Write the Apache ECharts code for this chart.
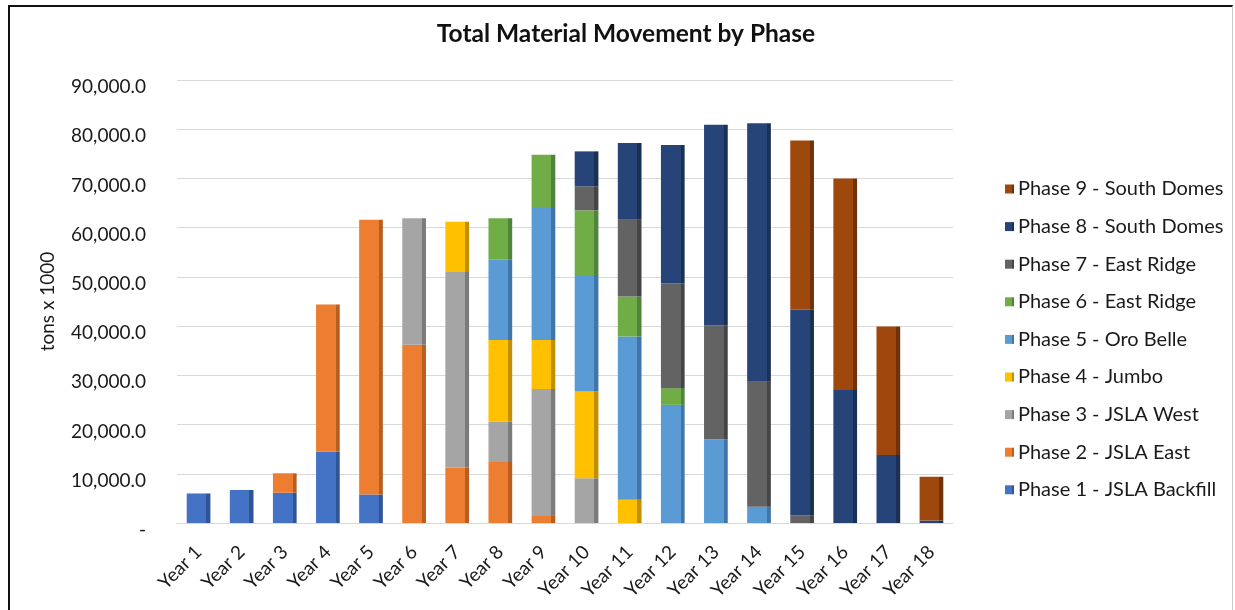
<!DOCTYPE html>
<html>
<head>
<meta charset="utf-8">
<script src="https://cdn.jsdelivr.net/npm/echarts@6/dist/echarts.min.js"></script>
<style>
html,body{margin:0;padding:0;background:#fff;}
#frame{position:absolute;left:8px;top:5px;width:1225px;height:620px;border-top:2px solid #111;border-left:2px solid #111;border-right:1px solid #ccc;box-sizing:border-box;}
#chart{position:absolute;left:0;top:0;width:1235px;height:610px;}
</style>
</head>
<body>
<div id="frame"></div>
<div id="chart"></div>
<script>
const categories = ['Year 1','Year 2','Year 3','Year 4','Year 5','Year 6','Year 7','Year 8','Year 9','Year 10','Year 11','Year 12','Year 13','Year 14','Year 15','Year 16','Year 17','Year 18'];
const phaseNames = ['Phase 1 - JSLA Backfill','Phase 2 - JSLA East','Phase 3 - JSLA West','Phase 4 - Jumbo','Phase 5 - Oro Belle','Phase 6 - East Ridge','Phase 7 - East Ridge','Phase 8 - South Domes','Phase 9 - South Domes'];
const phase1 = [6000, 6700, 6150, 14500, 5800, 0, 0, 0, 0, 0, 0, 0, 0, 0, 0, 0, 0, 0];
const phase2 = [0, 0, 3950, 29900, 55800, 36200, 11300, 12400, 1600, 0, 0, 0, 0, 0, 0, 0, 0, 0];
const phase3 = [0, 0, 0, 0, 0, 25700, 39700, 8200, 25600, 9100, 0, 0, 0, 0, 0, 0, 0, 0];
const phase4 = [0, 0, 0, 0, 0, 0, 10200, 16600, 10000, 17600, 4700, 0, 0, 0, 0, 0, 0, 0];
const phase5 = [0, 0, 0, 0, 0, 0, 0, 16300, 26800, 23700, 33200, 24000, 17000, 3300, 0, 0, 0, 0];
const phase6 = [0, 0, 0, 0, 0, 0, 0, 8400, 10800, 13100, 8100, 3400, 0, 0, 0, 0, 0, 0];
const phase7 = [0, 0, 0, 0, 0, 0, 0, 0, 0, 4900, 15600, 21300, 23200, 25400, 1600, 0, 0, 0];
const phase8 = [0, 0, 0, 0, 0, 0, 0, 0, 0, 7100, 15600, 28100, 40700, 52500, 41700, 27000, 13800, 500];
const phase9 = [0, 0, 0, 0, 0, 0, 0, 0, 0, 0, 0, 0, 0, 0, 34400, 43000, 26100, 8900];
const yTicks = [0, 10000, 20000, 30000, 40000, 50000, 60000, 70000, 80000, 90000];

const phaseData = [phase1, phase2, phase3, phase4, phase5, phase6, phase7, phase8, phase9];
const colors = ['#4472C4','#ED7D31','#A5A5A5','#FFC000','#5B9BD5','#70AD47','#636363','#264478','#9E480E'];
const sides  = ['#2F5597','#B85E1F','#7B7B7B','#C09000','#3F75A8','#50843A','#454545','#1A3054','#703208'];

function fmt(v){
  if (v === 0) return '-';
  return v.toLocaleString('en-US',{minimumFractionDigits:1,maximumFractionDigits:1});
}

const FONT = 'Lato';
const series = phaseData.map((d,i)=>({
  name: phaseNames[i],
  type: 'bar',
  stack: 'total',
  barWidth: '55%',
  data: d,
  itemStyle: {
    color: new echarts.graphic.LinearGradient(0,0,1,0,[
      {offset:0,color:colors[i]},{offset:0.83,color:colors[i]},
      {offset:0.83,color:sides[i]},{offset:1,color:sides[i]}
    ])
  },
  emphasis:{disabled:true}
}));

const chart = echarts.init(document.getElementById('chart'), null, {renderer:'canvas'});
chart.setOption({
  animation: false,
  color: colors,
  title: {
    text: 'Total Material Movement by Phase',
    left: 621, textAlign: 'center', top: 17,
    textStyle: {fontFamily: FONT, fontSize: 24.5, fontWeight: 'bold', color: '#111'}
  },
  legend: {
    orient: 'vertical',
    left: 1000, top: 172,
    itemWidth: 9, itemHeight: 9,
    itemGap: 13.6,
    icon: 'rect',
    data: phaseNames.slice().reverse(),
    textStyle: {fontFamily: FONT, fontSize: 20, color: '#1a1a1a', lineHeight: 24, padding:[0,0,0,-1]}
  },
  grid: {left: 177, right: 1235-953, top: 80, height: 443, containLabel: false},
  xAxis: {
    type: 'category',
    data: categories,
    axisTick: {show: false},
    axisLine: {show: true, lineStyle: {color: '#d9d9d9'}},
    axisLabel: {rotate: 45, margin: 26, fontFamily: FONT, fontSize: 19, color: '#1a1a1a', interval: 0}
  },
  yAxis: {
    type: 'value',
    min: 0, max: 90000, interval: 10000,
    name: 'tons x 1000',
    nameLocation: 'middle',
    nameGap: 120,
    nameRotate: 90,
    nameTextStyle: {fontFamily: FONT, fontSize: 19, color: '#1a1a1a'},
    axisLine: {show: false},
    axisTick: {show: false},
    splitLine: {lineStyle: {color: '#d9d9d9', width: 1}},
    axisLabel: {
      margin: 31,
      color: '#1a1a1a',
      formatter: v => yTicks.includes(v) ? '{a|' + fmt(v) + '}' : '',
      rich: {a: {fontFamily: FONT, fontSize: 19, color: '#1a1a1a', padding: [14,0,0,0]}}
    }
  },
  series: series
});
</script>
</body>
</html>
